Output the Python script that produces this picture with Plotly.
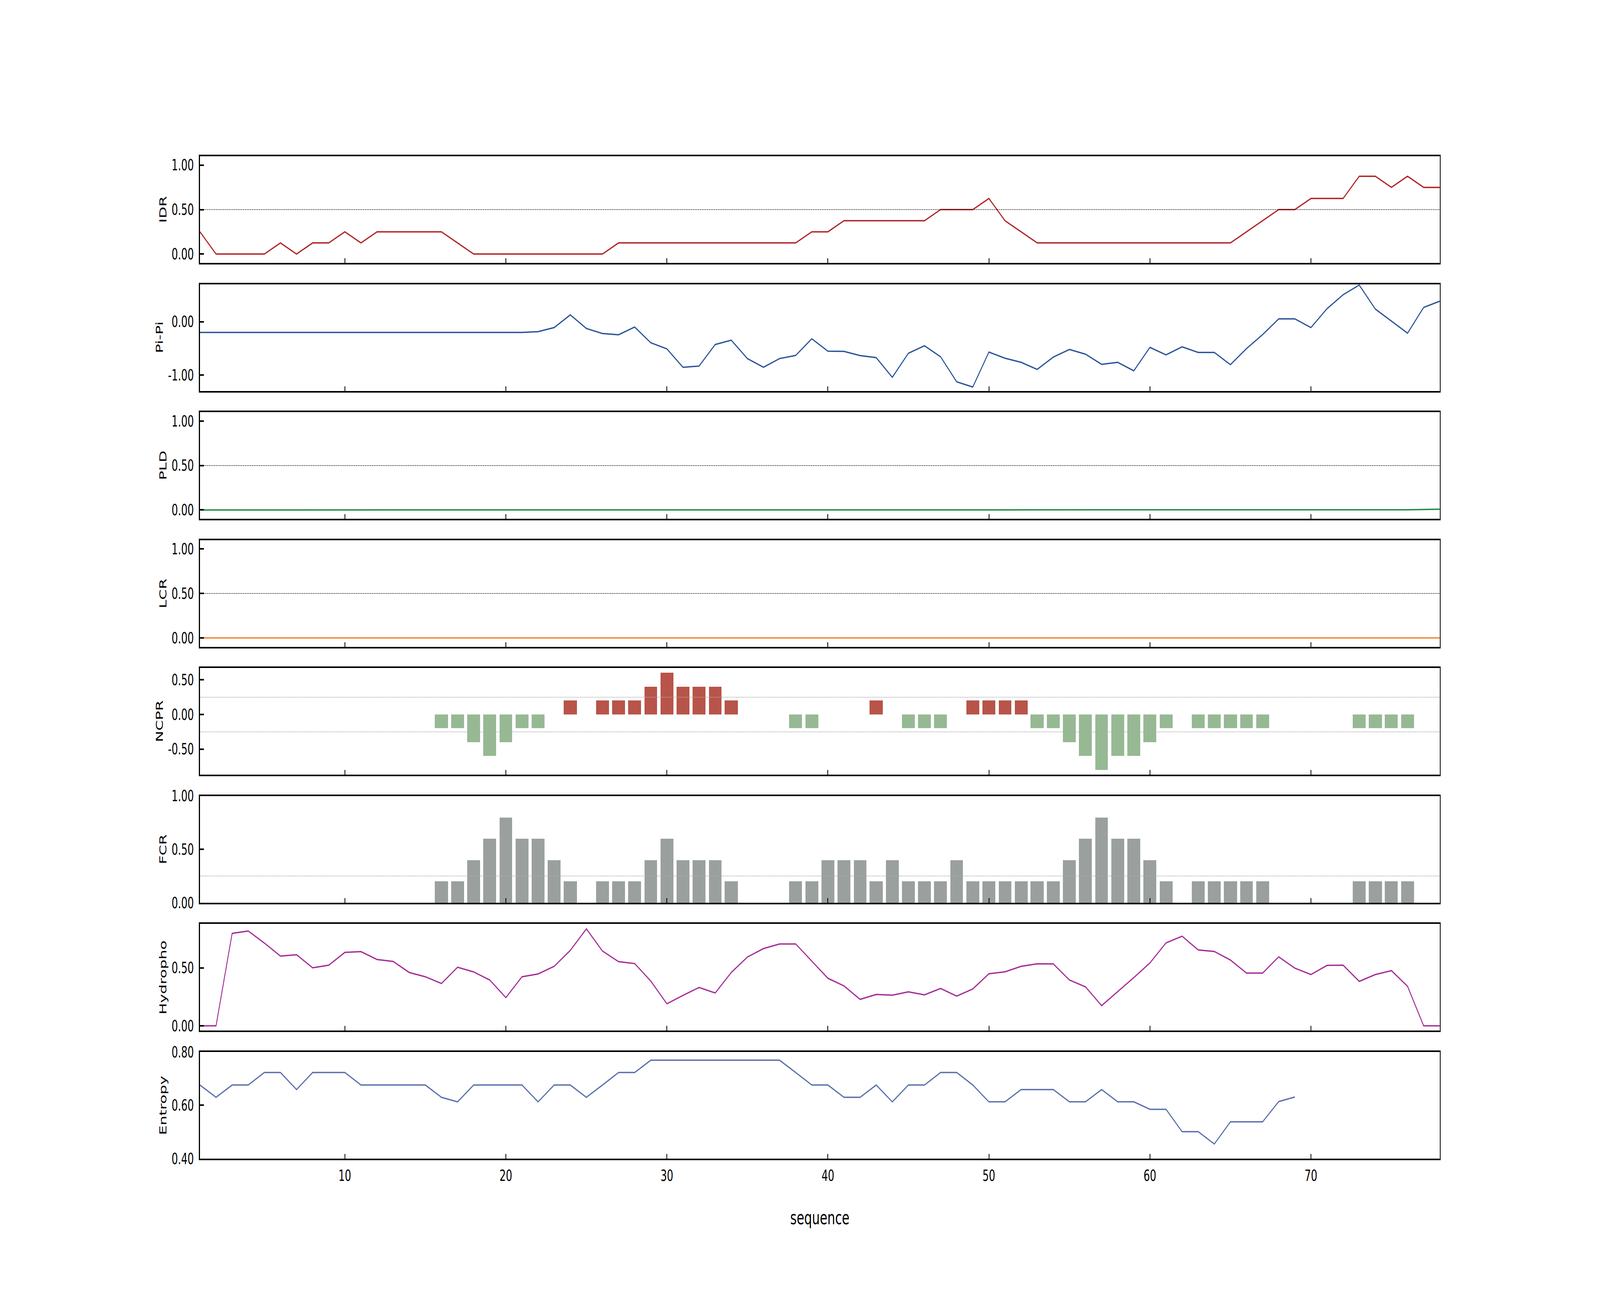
import plotly.graph_objects as go
from plotly.subplots import make_subplots

# ---------------- data ----------------
seq = list(range(1, 79))
seq_entropy = list(range(1, 70))

idr = [0.25, 0, 0, 0, 0, 0.125, 0, 0.125, 0.125, 0.25,
       0.125, 0.25, 0.25, 0.25, 0.25, 0.25, 0.125, 0, 0, 0,
       0, 0, 0, 0, 0, 0, 0.125, 0.125, 0.125, 0.125,
       0.125, 0.125, 0.125, 0.125, 0.125, 0.125, 0.125, 0.125, 0.25, 0.25,
       0.375, 0.375, 0.375, 0.375, 0.375, 0.375, 0.5, 0.5, 0.5, 0.625,
       0.375, 0.25, 0.125, 0.125, 0.125, 0.125, 0.125, 0.125, 0.125, 0.125,
       0.125, 0.125, 0.125, 0.125, 0.125, 0.25, 0.375, 0.5, 0.5, 0.625,
       0.625, 0.625, 0.875, 0.875, 0.75, 0.875, 0.75, 0.75]

pipi = [-0.2, -0.2, -0.2, -0.2, -0.2, -0.2, -0.2, -0.2, -0.2, -0.2,
        -0.2, -0.2, -0.2, -0.2, -0.2, -0.2, -0.2, -0.2, -0.2, -0.2,
        -0.2, -0.184, -0.108, 0.13, -0.125, -0.22, -0.243, -0.098, -0.393, -0.508,
        -0.852, -0.83, -0.426, -0.344, -0.689, -0.852, -0.689, -0.63, -0.318, -0.551,
        -0.554, -0.633, -0.672, -1.04, -0.59, -0.449, -0.656, -1.125, -1.223, -0.567,
        -0.682, -0.76, -0.892, -0.662, -0.518, -0.607, -0.797, -0.76, -0.918, -0.479,
        -0.62, -0.469, -0.574, -0.574, -0.803, -0.502, -0.239, 0.056, 0.056, -0.108,
        0.246, 0.508, 0.689, 0.239, 0.01, -0.213, 0.269, 0.387]

pld = [0, 0, 0, 0, 0, 0, 0, 0, 0, 0,
       0, 0, 0, 0, 0, 0, 0, 0, 0, 0,
       0, 0, 0, 0, 0, 0, 0, 0, 0, 0,
       0, 0, 0, 0, 0, 0, 0, 0, 0, 0,
       0, 0, 0, 0, 0, 0, 0, 0, 0, 0,
       0, 0, 0, 0, 0, 0, 0, 0, 0, 0,
       0, 0, 0, 0, 0, 0, 0, 0, 0, 0,
       0, 0, 0, 0, 0, 0.002, 0.005, 0.008]

lcr = [0, 0, 0, 0, 0, 0, 0, 0, 0, 0,
       0, 0, 0, 0, 0, 0, 0, 0, 0, 0,
       0, 0, 0, 0, 0, 0, 0, 0, 0, 0,
       0, 0, 0, 0, 0, 0, 0, 0, 0, 0,
       0, 0, 0, 0, 0, 0, 0, 0, 0, 0,
       0, 0, 0, 0, 0, 0, 0, 0, 0, 0,
       0, 0, 0, 0, 0, 0, 0, 0, 0, 0,
       0, 0, 0, 0, 0, 0, 0, 0]

ncpr = [0, 0, 0, 0, 0, 0, 0, 0, 0, 0,
        0, 0, 0, 0, 0, -0.2, -0.2, -0.4, -0.6, -0.4,
        -0.2, -0.2, 0, 0.2, 0, 0.2, 0.2, 0.2, 0.4, 0.6,
        0.4, 0.4, 0.4, 0.2, 0, 0, 0, -0.2, -0.2, 0,
        0, 0, 0.2, 0, -0.2, -0.2, -0.2, 0, 0.2, 0.2,
        0.2, 0.2, -0.2, -0.2, -0.4, -0.6, -0.8, -0.6, -0.6, -0.4,
        -0.2, 0, -0.2, -0.2, -0.2, -0.2, -0.2, 0, 0, 0,
        0, 0, -0.2, -0.2, -0.2, -0.2, 0, 0]

fcr = [0, 0, 0, 0, 0, 0, 0, 0, 0, 0,
       0, 0, 0, 0, 0, 0.2, 0.2, 0.4, 0.6, 0.8,
       0.6, 0.6, 0.4, 0.2, 0, 0.2, 0.2, 0.2, 0.4, 0.6,
       0.4, 0.4, 0.4, 0.2, 0, 0, 0, 0.2, 0.2, 0.4,
       0.4, 0.4, 0.2, 0.4, 0.2, 0.2, 0.2, 0.4, 0.2, 0.2,
       0.2, 0.2, 0.2, 0.2, 0.4, 0.6, 0.8, 0.6, 0.6, 0.4,
       0.2, 0, 0.2, 0.2, 0.2, 0.2, 0.2, 0, 0, 0,
       0, 0, 0.2, 0.2, 0.2, 0.2, 0, 0]

hydro = [0, 0, 0.797, 0.818, 0.714, 0.601, 0.613, 0.5, 0.523, 0.633,
         0.64, 0.572, 0.555, 0.46, 0.423, 0.365, 0.505, 0.465, 0.395, 0.243,
         0.423, 0.447, 0.513, 0.65, 0.836, 0.645, 0.553, 0.537, 0.386, 0.19,
         0.262, 0.331, 0.283, 0.46, 0.593, 0.666, 0.706, 0.706, 0.558, 0.41,
         0.344, 0.228, 0.27, 0.264, 0.293, 0.267, 0.322, 0.256, 0.318, 0.449,
         0.466, 0.513, 0.535, 0.534, 0.395, 0.336, 0.174, 0.296, 0.416, 0.542,
         0.715, 0.773, 0.654, 0.641, 0.567, 0.455, 0.455, 0.595, 0.497, 0.442,
         0.521, 0.523, 0.383, 0.442, 0.476, 0.341, 0, 0]

entropy = [0.676, 0.630, 0.676, 0.676, 0.723, 0.723, 0.659, 0.723, 0.723, 0.723,
           0.676, 0.676, 0.676, 0.676, 0.676, 0.630, 0.613, 0.676, 0.676, 0.676,
           0.676, 0.613, 0.676, 0.676, 0.630, 0.676, 0.723, 0.723, 0.769, 0.769,
           0.769, 0.769, 0.769, 0.769, 0.769, 0.769, 0.769, 0.723, 0.676, 0.676,
           0.630, 0.630, 0.676, 0.613, 0.676, 0.676, 0.723, 0.723, 0.676, 0.613,
           0.613, 0.659, 0.659, 0.659, 0.613, 0.613, 0.659, 0.613, 0.613, 0.585,
           0.585, 0.501, 0.501, 0.455, 0.538, 0.538, 0.538, 0.614, 0.631]

panel_titles = ["IDR", "Pi-Pi", "PLD", "LCR", "NCPR", "FCR", "Hydropho", "Entropy"]
x_tickvals = [10, 20, 30, 40, 50, 60, 70]
y_tickvals = [[0, 0.5, 1], [-1, 0], [0, 0.5, 1], [0, 0.5, 1],
              [-0.5, 0, 0.5], [0, 0.5, 1], [0, 0.5], [0.4, 0.6, 0.8]]
y_ticktext = [["0.00", "0.50", "1.00"], ["-1.00", "0.00"], ["0.00", "0.50", "1.00"],
              ["0.00", "0.50", "1.00"], ["-0.50", "0.00", "0.50"], ["0.00", "0.50", "1.00"],
              ["0.00", "0.50"], ["0.40", "0.60", "0.80"]]
black_ref = {1: [0.5], 3: [0.5], 4: [0.5]}
grey_ref = {5: [-0.25, 0.25], 6: [0.25]}

# ---------------- layout constants ----------------
W, H = 6250, 3333
ML, MR, MT, MB = 781, 626, 400, 367
PW, PH = W - ML - MR, H - MT - MB
VS = 54.5 / PH
FONT = "DejaVu Sans"
y_ranges = [[-0.1, 1.1], [-1.295, 0.705], [-0.1, 1.1], [-0.1, 1.1],
            [-0.87, 0.67], [0, 1], [-0.042, 0.878], [0.4, 0.8]]

fig = make_subplots(rows=8, cols=1, shared_xaxes=True, vertical_spacing=VS)

LW = 3.5
fig.add_trace(go.Scatter(x=seq, y=idr, mode="lines", line=dict(color="#b22222", width=LW)), row=1, col=1)
fig.add_trace(go.Scatter(x=seq, y=pipi, mode="lines", line=dict(color="#2c5599", width=LW)), row=2, col=1)
fig.add_trace(go.Scatter(x=seq, y=pld, mode="lines", line=dict(color="#1e8a44", width=LW)), row=3, col=1)
fig.add_trace(go.Scatter(x=seq, y=lcr, mode="lines", line=dict(color="#f0842f", width=LW)), row=4, col=1)
ncpr_colors = ["#b85449" if v > 0 else "#96b994" for v in ncpr]
fig.add_trace(go.Bar(x=seq, y=ncpr, width=0.8, marker=dict(color=ncpr_colors, line=dict(width=0))), row=5, col=1)
fig.add_trace(go.Bar(x=seq, y=fcr, width=0.8, marker=dict(color="#9aa09e", line=dict(width=0))), row=6, col=1)
fig.add_trace(go.Scatter(x=seq, y=hydro, mode="lines", line=dict(color="#a62e98", width=LW)), row=7, col=1)
fig.add_trace(go.Scatter(x=seq_entropy, y=entropy, mode="lines", line=dict(color="#5b70ad", width=LW)), row=8, col=1)

for r, vals in black_ref.items():
    for v in vals:
        fig.add_hline(y=v, row=r, col=1, line=dict(color="black", width=1.5, dash="4px,3px"), layer="above")
for r, vals in grey_ref.items():
    for v in vals:
        fig.add_hline(y=v, row=r, col=1, line=dict(color="#aaaaaa", width=1.5, dash="5px,2px"), layer="above")

for i in range(8):
    r = i + 1
    fig.update_xaxes(row=r, col=1, range=[1, 78], tickvals=x_tickvals, ticks="inside",
                     ticklen=12, tickwidth=2.5, tickcolor="black",
                     showticklabels=(r == 8), showline=True, mirror=True, linecolor="black",
                     linewidth=4, showgrid=False, zeroline=False,
                     tickfont=dict(family=FONT, size=39, color="black"), ticklabelstandoff=6)
    fig.update_yaxes(row=r, col=1, range=y_ranges[i], tickvals=y_tickvals[i], ticktext=y_ticktext[i],
                     ticks="inside", ticklen=15, tickwidth=4, tickcolor="black",
                     showline=True, mirror=True, linecolor="black", linewidth=4,
                     showgrid=False, zeroline=False,
                     tickfont=dict(family=FONT, size=39, color="black"), ticklabelstandoff=12)

annotations = []
for i, t in enumerate(panel_titles):
    yax = fig.layout["yaxis" if i == 0 else "yaxis%d" % (i + 1)]
    yc = (yax.domain[0] + yax.domain[1]) / 2
    xc_px = 623 if t in ("Pi-Pi", "NCPR") else 637
    annotations.append(dict(text=t, xref="paper", yref="paper", x=(xc_px - ML) / PW, y=yc,
                            xanchor="center", yanchor="middle", textangle=-90, showarrow=False,
                            font=dict(family=FONT, size=39, color="black")))
annotations.append(dict(text="sequence", xref="paper", yref="paper", x=0.5,
                        y=1 - (3117 - MT) / PH, xanchor="center", yanchor="middle",
                        showarrow=False, font=dict(family=FONT, size=48, color="black")))

fig.update_layout(width=W, height=H, margin=dict(l=ML, r=MR, t=MT, b=MB, pad=0),
                  paper_bgcolor="white", plot_bgcolor="white", showlegend=False,
                  font=dict(family=FONT, size=39, color="black"), annotations=annotations,
                  bargap=0)

# The browser viewport may be narrower than the requested 6250 px window;
# stretch the 6250x3333 figure so it fills the whole viewport like the reference frame.
post = """
document.documentElement.style.margin='0';
document.documentElement.style.overflow='hidden';
document.body.style.margin='0';
document.body.style.overflow='hidden';
var gd = document.getElementById('{plot_id}');
var sx = window.innerWidth / %d, sy = window.innerHeight / %d;
gd.style.position = 'fixed';
gd.style.left = '0px';
gd.style.top = '0px';
gd.style.transformOrigin = '0 0';
gd.style.transform = 'scale(' + sx + ',' + sy + ')';
""" % (W, H)

fig.write_html("out.html", post_script=post, config={"displayModeBar": False})
